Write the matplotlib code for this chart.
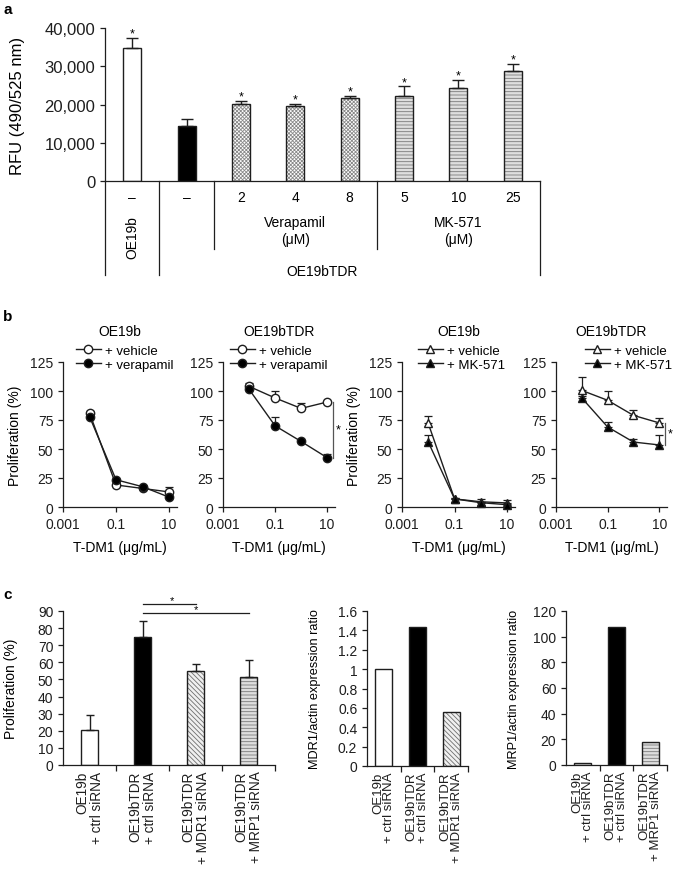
import matplotlib
matplotlib.use("Agg")
import matplotlib.pyplot as plt
import matplotlib.transforms as mtransforms
import numpy as np

plt.rcParams["font.family"] = ["Liberation Sans", "DejaVu Sans"]
plt.rcParams["hatch.linewidth"] = 0.6

# ---- panel a: RFU per treatment ----
a_values = [34900, 14500, 20100, 19700, 21800, 22300, 24300, 28700]
a_errors = [2600, 1600, 800, 500, 500, 2500, 2200, 2000]
a_styles = ["white", "black", "cross", "cross", "cross", "stripe", "stripe", "stripe"]
a_signif = [True, False, True, True, True, True, True, True]
a_doses = ["–", "–", "2", "4", "8", "5", "10", "25"]
a_yticks = [0, 10000, 20000, 30000, 40000]
a_ytick_labels = ["0", "10,000", "20,000", "30,000", "40,000"]

# ---- panel b: proliferation vs T-DM1 ----
b_dose = [0.01, 0.1, 1, 10]
b_titles = ["OE19b", "OE19bTDR", "OE19b", "OE19bTDR"]
b_drug = ["+ verapamil", "+ verapamil", "+ MK-571", "+ MK-571"]
b_vehicle = [[81, 19, 16, 13], [104, 94, 85, 90.5], [72, 7, 4.5, 3.5], [100.5, 92, 79, 72.5]]
b_vehicle_err = [[2, 1, 1, 4], [3, 6, 5, 1], [6.5, 1, 2.5, 2.5], [11.5, 8, 4.5, 4.5]]
b_treated = [[78, 23.5, 17.5, 8.5], [101.5, 70, 56.5, 42.5], [56, 7, 3.7, 2], [94, 69, 56, 53.5]]
b_treated_err = [[1, 1, 1, 1], [1, 7.5, 1, 3], [6.5, 1, 1, 1], [2, 4, 3, 8.5]]
b_markers = ["o", "o", "^", "^"]
b_signif = [False, True, False, True]

# ---- panel c: siRNA knockdown ----
c1_labels = ["OE19b\n+ ctrl siRNA", "OE19bTDR\n+ ctrl siRNA",
             "OE19bTDR\n+ MDR1 siRNA", "OE19bTDR\n+ MRP1 siRNA"]
c1_values = [20.4, 74.8, 55, 51.5]
c1_errors = [8.8, 9.2, 4.1, 10.1]
c1_styles = ["white", "black", "diag", "stripe"]
c2_labels = ["OE19b\n+ ctrl siRNA", "OE19bTDR\n+ ctrl siRNA", "OE19bTDR\n+ MDR1 siRNA"]
c2_values = [1.0, 1.44, 0.56]
c2_styles = ["white", "black", "diag"]
c3_labels = ["OE19b\n+ ctrl siRNA", "OE19bTDR\n+ ctrl siRNA", "OE19bTDR\n+ MRP1 siRNA"]
c3_values = [1.3, 107.5, 18.1]
c3_styles = ["white", "black", "stripe"]

BAR_STYLES = {
    "white": ("white", None, None),
    "black": ("black", None, None),
    "cross": ("white", "xxxxxxxxx", "#8a8a8a"),
    "stripe": ("#dedede", "-----", "#7a7a7a"),
    "diag": ("#f0f0f0", "\\\\\\\\\\\\\\", "#6e6e6e"),
}
EDGE = "#1e1e1e"

W, H = 676, 870
fig = plt.figure(figsize=(W / 100, H / 100), dpi=100)


def add_axes_px(left, top, right, bottom):
    return fig.add_axes([left / W, 1 - bottom / H, (right - left) / W, (bottom - top) / H])


def style_axes(ax, fs):
    ax.spines["top"].set_visible(False)
    ax.spines["right"].set_visible(False)
    for s in ("left", "bottom"):
        ax.spines[s].set_linewidth(0.9)
        ax.spines[s].set_color(EDGE)
    ax.tick_params(direction="out", length=3.5, width=0.9, labelsize=fs, colors=EDGE)


def draw_bars(ax, heights, width, styles, errors=None, capsize=2.5):
    x = np.arange(len(heights))
    for xi, h, st in zip(x, heights, styles):
        face, hatch, hcol = BAR_STYLES[st]
        if hatch:
            ax.bar(xi, h, width, color=face, edgecolor=hcol, hatch=hatch, linewidth=0)
        else:
            ax.bar(xi, h, width, color=face, linewidth=0)
        ax.bar(xi, h, width, fill=False, edgecolor=EDGE, linewidth=1.0)
    if errors is not None:
        ax.errorbar(x, heights, yerr=[np.zeros(len(errors)), errors], fmt="none",
                    ecolor=EDGE, elinewidth=1.0, capsize=capsize, capthick=1.0)
    return x


# ================= panel a =================
ax = add_axes_px(105, 29, 540, 182)
style_axes(ax, 12)
x = draw_bars(ax, a_values, 0.33, a_styles, a_errors, capsize=4.5)
for xi, v, e, s in zip(x, a_values, a_errors, a_signif):
    if s:
        ax.text(xi, v + e + 300, "*", ha="center", va="baseline", fontsize=9)
ax.set_xlim(-0.5, 7.5)
ax.set_ylim(0, 40000)
ax.set_yticks(a_yticks)
ax.set_yticklabels(a_ytick_labels)
ax.tick_params(axis="x", length=0, labelbottom=False)
ax.set_ylabel("RFU (490/525 nm)", fontsize=12)
ax.yaxis.set_label_coords(-0.184, 0.5)

# table under the bars
trans = mtransforms.blended_transform_factory(ax.transData, ax.transAxes)
for xl, yb in [(-0.5, -0.614), (0.5, -0.614), (1.5, -0.444), (4.5, -0.444), (7.5, -0.614)]:
    ax.plot([xl, xl], [0, yb], transform=trans, clip_on=False, color=EDGE, lw=0.9)
for xi, d in zip(x, a_doses):
    ax.text(xi, -0.105, d, transform=trans, ha="center", va="center", fontsize=10)
ax.text(3, -0.268, "Verapamil", transform=trans, ha="center", va="center", fontsize=10)
ax.text(3, -0.379, "(μM)", transform=trans, ha="center", va="center", fontsize=10)
ax.text(6, -0.268, "MK-571", transform=trans, ha="center", va="center", fontsize=10)
ax.text(6, -0.379, "(μM)", transform=trans, ha="center", va="center", fontsize=10)
ax.text(0, -0.36, "OE19b", transform=trans, ha="center", va="center", rotation=90, fontsize=10)
ax.text(3.5, -0.588, "OE19bTDR", transform=trans, ha="center", va="center", fontsize=10)

# ================= panel b =================
b_boxes = [(63, 363, 177, 508), (223, 363, 335, 508), (402, 363, 515, 508), (556, 363, 667, 508)]
b_legend_x = [0.11, 0.06, 0.14, 0.26]
for i, box in enumerate(b_boxes):
    ax = add_axes_px(*box)
    style_axes(ax, 10)
    ax.set_xscale("log")
    mk = b_markers[i]
    ax.errorbar(b_dose, b_vehicle[i], yerr=[np.zeros(4), b_vehicle_err[i]], fmt="none",
                ecolor=EDGE, elinewidth=0.9, capsize=2.8, capthick=0.9)
    ax.errorbar(b_dose, b_treated[i], yerr=[np.zeros(4), b_treated_err[i]], fmt="none",
                ecolor=EDGE, elinewidth=0.9, capsize=2.8, capthick=0.9)
    ax.plot(b_dose, b_vehicle[i], marker=mk, color=EDGE, mfc="white", mec=EDGE,
            ms=6, lw=1.0, mew=1.0, label="+ vehicle", clip_on=False, zorder=3)
    ax.plot(b_dose, b_treated[i], marker=mk, color=EDGE, mfc="black", mec=EDGE,
            ms=6, lw=1.0, mew=1.0, label=b_drug[i], clip_on=False, zorder=3)
    ax.set_xlim(0.001, 20)
    ax.set_ylim(0, 125)
    ax.set_xticks([0.001, 0.1, 10])
    ax.set_xticklabels(["0.001", "0.1", "10"])
    ax.minorticks_off()
    ax.set_yticks([0, 25, 50, 75, 100, 125])
    ax.set_xlabel("T-DM1 (μg/mL)", fontsize=10, labelpad=7)
    if i in (0, 2):
        ax.set_ylabel("Proliferation (%)", fontsize=10)
        ax.yaxis.set_label_coords(-0.36, 0.5)
    ax.text(0.5, 1 + 31 / 145, b_titles[i], transform=ax.transAxes, ha="center",
            va="center", fontsize=10)
    ax.legend(loc="upper left", bbox_to_anchor=(b_legend_x[i], 1.12), frameon=False,
              fontsize=9.5, handlelength=1.9, handletextpad=0.3, borderpad=0,
              labelspacing=0.15, borderaxespad=0)
    if b_signif[i]:
        lo, hi = b_treated[i][-1], b_vehicle[i][-1]
        off_line = mtransforms.offset_copy(ax.transData, fig=fig, x=6, y=0, units="dots")
        ax.plot([10, 10], [lo, hi], transform=off_line, color="#555555", lw=0.9, clip_on=False)
        off_star = mtransforms.offset_copy(ax.transData, fig=fig, x=11, y=0, units="dots")
        ax.text(10, (lo + hi) / 2, "*", transform=off_star, ha="center", va="center", fontsize=9)

# ================= panel c =================
def finish_c(ax, labels, fs_lab, linesp):
    n = len(labels)
    ax.set_xlim(-0.5, n - 0.5)
    ax.set_xticks(range(n))
    ax.set_xticklabels(labels, rotation=90, va="top", ha="center",
                       multialignment="right", fontsize=fs_lab, linespacing=linesp)
    ax.tick_params(axis="x", which="major", length=0, pad=4)
    ax.set_xticks(np.arange(n) + 0.5, minor=True)
    ax.tick_params(axis="x", which="minor", length=4, width=0.9, direction="out", colors=EDGE)


ax = add_axes_px(63, 612, 275, 766)
style_axes(ax, 10)
draw_bars(ax, c1_values, 0.32, c1_styles, c1_errors, capsize=2.6)
ax.set_ylim(0, 90)
ax.set_yticks(range(0, 91, 10))
finish_c(ax, c1_labels, 9.8, 1.1)
ax.set_ylabel("Proliferation (%)", fontsize=10)
ax.yaxis.set_label_coords(-0.212, 0.5)
for x2, yl in [(2, 94), (3, 89)]:
    ax.plot([1, x2], [yl, yl], color=EDGE, lw=0.9, clip_on=False)
ax.text(1.55, 94.5, "*", ha="center", va="baseline", fontsize=8)
ax.text(2.0, 89.5, "*", ha="center", va="baseline", fontsize=8)

ax = add_axes_px(367, 612, 468, 767)
style_axes(ax, 10)
draw_bars(ax, c2_values, 0.5, c2_styles)
ax.set_ylim(0, 1.6)
ax.set_yticks(np.arange(0, 1.61, 0.2))
ax.set_yticklabels(["0", "0.2", "0.4", "0.6", "0.8", "1", "1.2", "1.4", "1.6"])
finish_c(ax, c2_labels, 9.5, 0.92)
ax.set_ylabel("MDR1/actin expression ratio", fontsize=9.2)
ax.yaxis.set_label_coords(-0.455, 0.5)

ax = add_axes_px(566, 612, 667, 766)
style_axes(ax, 10)
draw_bars(ax, c3_values, 0.5, c3_styles)
ax.set_ylim(0, 120)
ax.set_yticks(range(0, 121, 20))
finish_c(ax, c3_labels, 9.5, 0.92)
ax.set_ylabel("MRP1/actin expression ratio", fontsize=9.2)
ax.yaxis.set_label_coords(-0.455, 0.5)

for lab, yp in [("a", 10), ("b", 317), ("c", 595)]:
    fig.text(8 / W, 1 - yp / H, lab, fontsize=11, fontweight="bold", ha="center", va="center")

fig.savefig("out.png", dpi=100)
